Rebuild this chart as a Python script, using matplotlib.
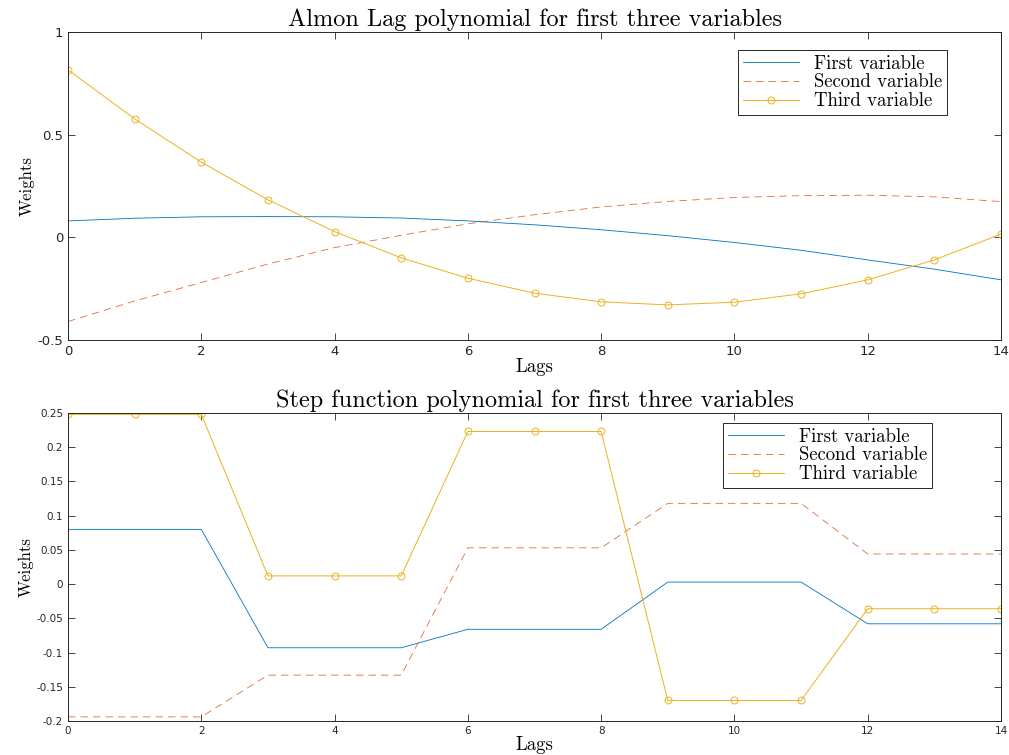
import numpy as np
import matplotlib
matplotlib.use('Agg')
import matplotlib.pyplot as plt
from matplotlib.ticker import FormatStrFormatter

plt.rcParams['axes.unicode_minus'] = False

# Lags
lags = np.arange(15)

# Almon lag weights
almon_first = [0.080, 0.093, 0.100, 0.101, 0.100, 0.094, 0.080, 0.061, 0.037, 0.008,
               -0.025, -0.063, -0.110, -0.155, -0.207]
almon_second = [-0.410, -0.310, -0.220, -0.130, -0.050, 0.010, 0.066, 0.110, 0.148, 0.175,
                0.194, 0.203, 0.205, 0.197, 0.174]
almon_third = [0.816, 0.577, 0.366, 0.183, 0.028, -0.100, -0.199, -0.272, -0.314, -0.329,
               -0.316, -0.275, -0.207, -0.110, 0.016]

# Step function weights
step_first = [0.080, 0.080, 0.080, -0.093, -0.093, -0.093, -0.066, -0.066, -0.066,
              0.003, 0.003, 0.003, -0.058, -0.058, -0.058]
step_second = [-0.194, -0.194, -0.194, -0.133, -0.133, -0.133, 0.053, 0.053, 0.053,
               0.118, 0.118, 0.118, 0.044, 0.044, 0.044]
step_third = [0.248, 0.248, 0.248, 0.012, 0.012, 0.012, 0.223, 0.223, 0.223,
              -0.170, -0.170, -0.170, -0.036, -0.036, -0.036]

labels = ['First variable', 'Second variable', 'Third variable']
top_yticks = [-0.5, 0, 0.5, 1]
bottom_yticks = [-0.2, -0.15, -0.1, -0.05, 0, 0.05, 0.1, 0.15, 0.2, 0.25]

c1 = (0, 0.447, 0.741)
c2 = (0.85, 0.325, 0.098)
c3 = (0.929, 0.694, 0.125)

serif = 'cmr10'

W, H = 1009, 755
fig = plt.figure(figsize=(W/100, H/100), dpi=100)
ax = fig.add_axes([68/W, 1-340/H, (1001-68)/W, (340-32)/H])
ax1 = fig.add_axes([68/W, 1-721/H, (1001-68)/W, (721-413)/H])


def draw(a, y1, y2, y3, title, ylim, yticks, tick_fs, legend_loc):
    a.plot(lags, y1, color=c1, lw=0.6, label=labels[0])
    a.plot(lags, y2, color=c2, lw=0.6, ls=(0, (9, 6)), alpha=0.85, label=labels[1])
    a.plot(lags, y3, color=c3, lw=0.7, marker='o', ms=5, mfc='none', mew=0.7, label=labels[2])
    a.set_xlim(0, 14)
    a.set_ylim(*ylim)
    a.set_xticks(np.arange(0, 15, 2))
    a.set_yticks(yticks)
    a.yaxis.set_major_formatter(FormatStrFormatter('%g'))
    a.tick_params(direction='in', top=True, right=True, length=5, width=0.6,
                  labelsize=tick_fs, colors='#262626', labelcolor='#262626')
    for s in a.spines.values():
        s.set_linewidth(0.7)
        s.set_color('#262626')
    a.set_title(title, fontfamily=serif, fontsize=17.5, pad=4)
    a.set_xlabel('Lags', fontfamily=serif, fontsize=13.5, labelpad=0)
    a.set_ylabel('Weights', fontfamily=serif, fontsize=12, labelpad=2)
    leg = a.legend(loc='upper left', bbox_to_anchor=legend_loc, prop={'family': serif, 'size': 13.5},
                   fancybox=False, edgecolor='#262626', framealpha=1, handlelength=3,
                   borderpad=0.25, labelspacing=0.05, borderaxespad=0)
    leg.get_frame().set_linewidth(0.7)


draw(ax, almon_first, almon_second, almon_third,
     'Almon Lag polynomial for first three variables',
     (-0.5, 1), top_yticks, 9.5, ((738-68)/933, (340-50)/308))
draw(ax1, step_first, step_second, step_third,
     'Step function polynomial for first three variables',
     (-0.2, 0.25), bottom_yticks, 7.5, ((723-68)/933, (721-423)/308))

fig.savefig('out.png', dpi=100)
